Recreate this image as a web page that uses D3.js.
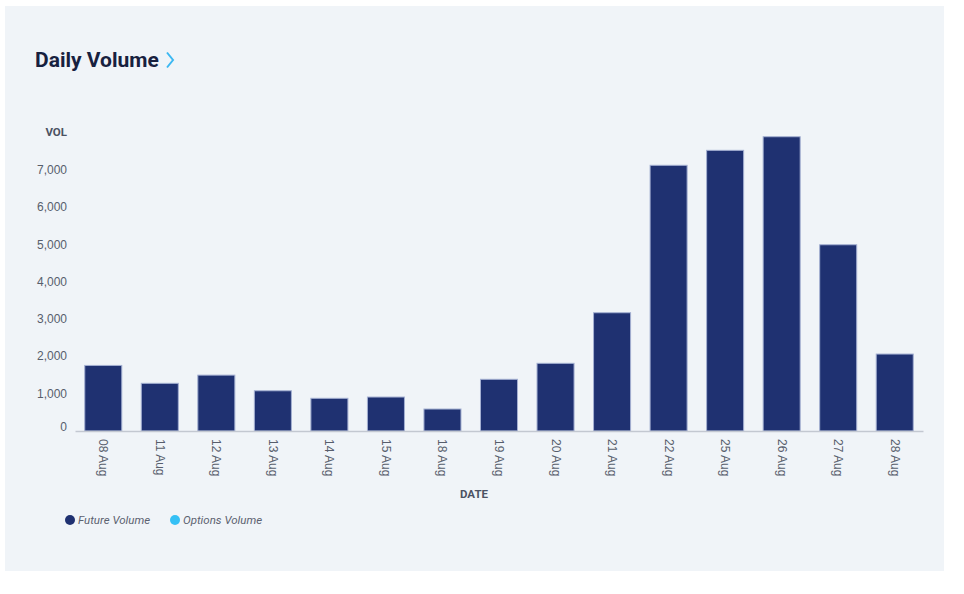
<!DOCTYPE html>
<html lang="en">
<head>
    <meta charset="UTF-8">
    <title>Daily Volume</title>
    <script src="https://d3js.org/d3.v7.min.js"></script>
    <style>
        body {
            margin: 0;
            padding: 0;
            background-color: #ffffff;
            font-family: Roboto, Arial, sans-serif;
        }

        .panel {
            fill: #f0f4f8;
        }

        .title {
            font-size: 21px;
            font-weight: 700;
            fill: #17213f;
        }

        .tick-label {
            font-size: 12px;
            fill: #575e6c;
        }

        .axis-title {
            font-size: 11.5px;
            font-weight: 700;
            fill: #4b5263;
        }

        .legend-label {
            font-size: 11.5px;
            font-style: italic;
            fill: #5c6270;
        }
    </style>
</head>
<body>
    <div id="chart"></div>
    <script>
        // data
        const dates = ["08 Aug", "11 Aug", "12 Aug", "13 Aug", "14 Aug", "15 Aug", "18 Aug", "19 Aug",
                       "20 Aug", "21 Aug", "22 Aug", "25 Aug", "26 Aug", "27 Aug", "28 Aug"];
        const futureVolume = [1760, 1280, 1500, 1080, 878, 912, 590, 1388,
                              1817, 3175, 7133, 7535, 7900, 5000, 2066];
        const optionsVolume = [0, 0, 0, 0, 0, 0, 0, 0, 0, 0, 0, 0, 0, 0, 0];
        const yTicks = [0, 1000, 2000, 3000, 4000, 5000, 6000, 7000];
        const seriesNames = ["Future Volume", "Options Volume"];
        const seriesColors = ["#1f3171", "#35c0f5"];

        const width = 964;
        const height = 594;
        const plot = { left: 75, right: 923, top: 133, bottom: 431 };

        const svg = d3.select("#chart")
            .append("svg")
            .attr("width", width)
            .attr("height", height);

        // card background
        svg.append("rect")
            .attr("class", "panel")
            .attr("x", 5)
            .attr("y", 6)
            .attr("width", 939)
            .attr("height", 565);

        // title + chevron
        svg.append("text")
            .attr("class", "title")
            .attr("x", 35)
            .attr("y", 67)
            .text("Daily Volume");

        svg.append("path")
            .attr("d", "M167,52.5 L173,60 L167,67.5")
            .attr("fill", "none")
            .attr("stroke", "#3cb8f2")
            .attr("stroke-width", 2);

        const x = d3.scaleBand()
            .domain(dates)
            .range([plot.left, plot.right])
            .paddingInner(0.345)
            .paddingOuter(0.1725);

        const y = d3.scaleLinear()
            .domain([0, 8000])
            .range([plot.bottom, plot.top]);

        // bars (options stacked on futures)
        const rows = dates.map((d, i) => ({ date: d, future: futureVolume[i], options: optionsVolume[i] }));

        svg.append("g")
            .selectAll("rect")
            .data(rows)
            .join("rect")
            .attr("x", d => x(d.date))
            .attr("y", d => y(d.future))
            .attr("width", x.bandwidth())
            .attr("height", d => y(0) - y(d.future))
            .attr("fill", seriesColors[0])
            .attr("stroke", "#a4b0d2")
            .attr("stroke-width", 1);

        svg.append("g")
            .selectAll("rect")
            .data(rows.filter(d => d.options > 0))
            .join("rect")
            .attr("x", d => x(d.date))
            .attr("y", d => y(d.future + d.options))
            .attr("width", x.bandwidth())
            .attr("height", d => y(d.future) - y(d.future + d.options))
            .attr("fill", seriesColors[1]);

        // y axis labels
        const yAxis = d3.axisLeft(y)
            .tickValues(yTicks)
            .tickSize(0)
            .tickPadding(8)
            .tickFormat(d3.format(","));

        const yg = svg.append("g")
            .attr("transform", `translate(${plot.left},0)`)
            .call(yAxis);
        yg.select(".domain").remove();
        yg.selectAll("text")
            .attr("class", "tick-label")
            .attr("font-family", null)
            .attr("font-size", null)
            .attr("fill", null)
            .attr("dy", d => d === 0 ? "-0.05em" : "0.28em");

        svg.append("text")
            .attr("class", "axis-title")
            .attr("x", 67)
            .attr("y", plot.top + 3)
            .attr("text-anchor", "end")
            .text("VOL");

        // x axis
        const xAxis = d3.axisBottom(x).tickSize(0).tickPadding(0);
        const xg = svg.append("g")
            .attr("transform", `translate(0,${plot.bottom})`)
            .call(xAxis);
        xg.select(".domain")
            .attr("stroke", "#c3c8d1")
            .attr("stroke-width", 1.5);
        xg.selectAll("text")
            .attr("class", "tick-label")
            .attr("font-family", null)
            .attr("font-size", null)
            .attr("fill", null)
            .attr("text-anchor", "start")
            .attr("transform", "translate(0,8) rotate(90)")
            .attr("x", 0)
            .attr("y", 0)
            .attr("dy", "0.33em");

        svg.append("text")
            .attr("class", "axis-title")
            .attr("x", 474)
            .attr("y", 498)
            .attr("text-anchor", "middle")
            .text("DATE");

        // legend
        const legendX = [70, 175];
        const legend = svg.append("g")
            .selectAll("g")
            .data(seriesNames)
            .join("g")
            .attr("transform", (d, i) => `translate(${legendX[i]},520)`);

        legend.append("circle")
            .attr("r", 5)
            .attr("fill", (d, i) => seriesColors[i]);

        legend.append("text")
            .attr("class", "legend-label")
            .attr("x", 8)
            .attr("dy", "0.35em")
            .text(d => d);
    </script>
</body>
</html>
